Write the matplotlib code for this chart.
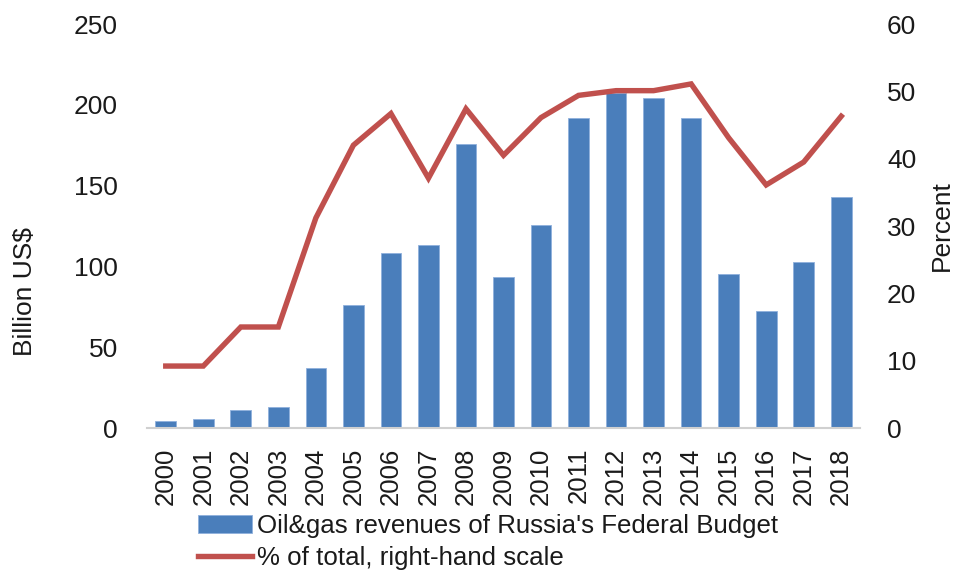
import matplotlib
matplotlib.use("Agg")
import matplotlib.pyplot as plt
import numpy as np

years = ["2000", "2001", "2002", "2003", "2004", "2005", "2006", "2007", "2008", "2009",
         "2010", "2011", "2012", "2013", "2014", "2015", "2016", "2017", "2018"]
revenues = [4.3, 5.7, 11.3, 12.7, 37.4, 76, 108, 113, 175.5, 93.6,
            125.6, 191.6, 207, 204, 192, 95.5, 72.4, 102.5, 143]
share_pct = [9.2, 9.2, 15.0, 15.0, 31.2, 42.0, 46.7, 37.1, 47.4, 40.5,
             46.1, 49.4, 50.1, 50.1, 51.1, 43.1, 36.1, 39.5, 46.3]

left_ticks = [0, 50, 100, 150, 200, 250]
right_ticks = [0, 10, 20, 30, 40, 50, 60]

plt.rcParams['font.family'] = ['Liberation Sans', 'DejaVu Sans']
txt = '#1a1a1a'
fs = 19
fs_x = 18.5
fs_leg = 18.6

fig = plt.figure(figsize=(9.55, 5.75), dpi=100)
ax = fig.add_axes([147/955, (575-428)/575, (860-147)/955, (428-24)/575])
x = np.arange(len(years))
bars = ax.bar(x, revenues, width=0.55, color='#4a7ebb', edgecolor='#8fb0dc', linewidth=0.6,
              label="Oil&gas revenues of Russia's Federal Budget", zorder=2)
ax.set_xlim(-0.5, len(years) - 0.5)
ax.set_ylim(0, 250)
ax.set_yticks(left_ticks)
ax.set_xticks(x)
ax.set_xticklabels(years, rotation=90, fontsize=fs_x, color=txt)
ax.tick_params(axis='y', length=0, pad=21, labelsize=fs, labelcolor=txt)
ax.tick_params(axis='x', length=0, pad=14, labelsize=fs_x, labelcolor=txt)
for s in ['top', 'left', 'right']:
    ax.spines[s].set_visible(False)
ax.spines['bottom'].set_color('#d0d0d0')
ax.spines['bottom'].set_linewidth(1.5)

ax2 = ax.twinx()
line, = ax2.plot(x, share_pct, color='#c0504d', linewidth=3.9, solid_joinstyle='miter',
                 label='% of total, right-hand scale', zorder=3)
ax2.set_ylim(0, 60)
ax2.set_yticks(right_ticks)
ax2.tick_params(axis='y', length=0, pad=19.5, labelsize=fs, labelcolor=txt)
for s in ['top', 'left', 'right', 'bottom']:
    ax2.spines[s].set_visible(False)

fig.text(25/955, 1 - 292/575, 'Billion US$', rotation=90, ha='center', va='center',
         fontsize=fs, color=txt)
fig.text(942/955, 1 - 226/575, 'Percent', rotation=90, ha='center', va='center',
         fontsize=fs, color=txt)

fig.legend(handles=[bars, line], loc='upper left', bbox_to_anchor=(198/955, 1 - 514/575),
           frameon=False, fontsize=fs_leg, handlelength=2.1, handletextpad=0.2,
           labelspacing=0.3, borderpad=0, borderaxespad=0, labelcolor=txt)

fig.savefig('out.png', dpi=100)
